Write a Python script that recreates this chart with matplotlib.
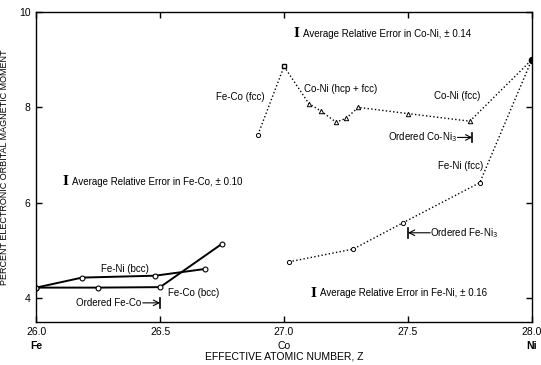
import matplotlib
matplotlib.use("Agg")
import matplotlib.pyplot as plt

plt.rcParams['font.family'] = ['Liberation Sans', 'DejaVu Sans']

# Fe-Co (bcc), solid
feco_bcc_z = [26.0, 26.25, 26.5, 26.75]
feco_bcc_m = [4.22, 4.22, 4.23, 5.14]
# Fe-Ni (bcc), solid
feni_bcc_z = [26.0, 26.185, 26.48, 26.68]
feni_bcc_m = [4.22, 4.43, 4.47, 4.61]
# Fe-Co (fcc), dotted
feco_fcc_z = [26.895, 27.0]
feco_fcc_m = [7.43, 8.86]
# Co-Ni (hcp + fcc) and Co-Ni (fcc), dotted
coni_z = [27.0, 27.10, 27.15, 27.21, 27.25, 27.30, 27.50, 27.75, 28.0]
coni_m = [8.86, 8.08, 7.92, 7.69, 7.77, 8.00, 7.87, 7.71, 9.0]
# Fe-Ni (fcc), dotted
feni_fcc_z = [27.02, 27.28, 27.48, 27.79, 28.0]
feni_fcc_m = [4.76, 5.03, 5.58, 6.42, 9.0]
# ordering compositions
ordered_z = [26.5, 27.5, 27.76]
ordered_m = [3.90, 5.37, 7.37]

xticks = [26.0, 26.5, 27.0, 27.5, 28.0]
xticklabels = ["26.0", "26.5", "27.0", "27.5", "28.0"]
elements = [(26.0, "Fe", 'bold'), (27.0, "Co", 'normal'), (28.0, "Ni", 'bold')]
yticks = [4, 6, 8, 10]

# average relative error notes
err_pos = [(27.036, 9.54), (26.105, 6.44), (27.105, 4.10)]
err_text = ["Average Relative Error in Co-Ni, \u00b1 0.14",
            "Average Relative Error in Fe-Co, \u00b1 0.10",
            "Average Relative Error in Fe-Ni, \u00b1 0.16"]

fig = plt.figure(figsize=(5.41, 3.65), dpi=100)
ax = fig.add_axes([0.067, 0.118, 0.916, 0.849])

ax.plot(feco_bcc_z, feco_bcc_m, '-', color='black', lw=1.4, marker='o', ms=3.5,
        mfc='white', mec='black', mew=0.8)
ax.plot(feni_bcc_z, feni_bcc_m, '-', color='black', lw=1.4, marker='o', ms=3.5,
        mfc='white', mec='black', mew=0.8)
ax.plot(feco_fcc_z, feco_fcc_m, ':', color='black', lw=1.0, marker='o', ms=3,
        mfc='white', mec='black', mew=0.7)
ax.plot(coni_z, coni_m, ':', color='black', lw=1.0)
ax.plot(coni_z[1:-1], coni_m[1:-1], '^', ms=3.2, mfc='white', mec='black', mew=0.7, ls='none')
ax.plot(coni_z[0], coni_m[0], 's', ms=3.5, mfc='white', mec='black', mew=1.0)
ax.plot(feni_fcc_z, feni_fcc_m, ':', color='black', lw=1.0, marker='o', ms=3,
        mfc='white', mec='black', mew=0.7)
ax.plot(coni_z[-1], coni_m[-1], 'o', ms=4.5, color='black')

ax.set_xlim(26.0, 28.0)
ax.set_ylim(3.5, 10.0)
ax.set_xticks(xticks)
ax.set_xticklabels(xticklabels)
ax.set_yticks(yticks)
ax.tick_params(direction='in', length=4.5, width=1, top=True, right=True,
               labelsize=7.5, pad=4)
for s in ax.spines.values():
    s.set_linewidth(1.0)

for z, name, w in elements:
    ax.text(z, -0.077, name, transform=ax.get_xaxis_transform(), ha='center',
            va='center', fontsize=7.5, fontweight=w)

ax.set_xlabel("EFFECTIVE ATOMIC NUMBER, Z", fontsize=7.5, labelpad=10)
ax.set_ylabel("PERCENT ELECTRONIC ORBITAL MAGNETIC MOMENT", fontsize=6.5, labelpad=7)

fs = 7
for (z, m), t in zip(err_pos, err_text):
    ax.text(z, m, "I", fontsize=9, va='center', family='DejaVu Serif', fontweight='bold')
    ax.annotate(t, xy=(z, m), xytext=(7, 0), textcoords='offset points',
                fontsize=fs, va='center')

ax.text(26.726, 8.21, "Fe-Co (fcc)", fontsize=fs, va='center')
ax.text(27.08, 8.38, "Co-Ni (hcp + fcc)", fontsize=fs, va='center')
ax.text(27.605, 8.23, "Co-Ni (fcc)", fontsize=fs, va='center')
ax.text(27.62, 6.78, "Fe-Ni (fcc)", fontsize=fs, va='center')
ax.text(26.26, 4.61, "Fe-Ni (bcc)", fontsize=fs, va='center')
ax.text(26.53, 4.10, "Fe-Co (bcc)", fontsize=fs, va='center')

# ordered compositions: bar + arrow + label
ax.plot([ordered_z[0]] * 2, [ordered_m[0] - 0.1, ordered_m[0] + 0.1], color='black', lw=1.2)
ax.annotate("", xy=(ordered_z[0], ordered_m[0]), xytext=(26.43, ordered_m[0]),
            arrowprops=dict(arrowstyle='->', lw=0.8, color='black', shrinkA=0, shrinkB=0))
ax.text(26.425, ordered_m[0], "Ordered Fe-Co", fontsize=fs, va='center', ha='right')

ax.plot([ordered_z[1]] * 2, [ordered_m[1] - 0.1, ordered_m[1] + 0.1], color='black', lw=1.2)
ax.annotate("", xy=(ordered_z[1], ordered_m[1]), xytext=(27.59, ordered_m[1]),
            arrowprops=dict(arrowstyle='->', lw=0.8, color='black', shrinkA=0, shrinkB=0))
ax.text(27.59, ordered_m[1], "Ordered Fe-Ni$_3$", fontsize=fs, va='center')

ax.plot([ordered_z[2]] * 2, [ordered_m[2] - 0.1, ordered_m[2] + 0.1], color='black', lw=1.2)
ax.annotate("", xy=(ordered_z[2], ordered_m[2]), xytext=(27.70, ordered_m[2]),
            arrowprops=dict(arrowstyle='->', lw=0.8, color='black', shrinkA=0, shrinkB=0))
ax.text(27.70, ordered_m[2], "Ordered Co-Ni$_3$", fontsize=fs, va='center', ha='right')

fig.savefig("out.png", dpi=100)
